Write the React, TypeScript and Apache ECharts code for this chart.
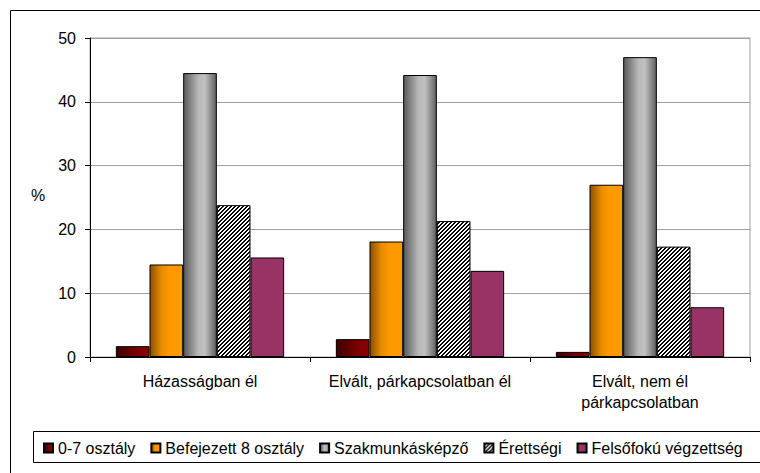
import React, { useEffect, useRef } from "react";
import * as echarts from "echarts";

const categories = ["Házasságban él", "Elvált, párkapcsolatban él", "Elvált, nem él\npárkapcsolatban"];
const seriesNames = ["0-7 osztály", "Befejezett 8 osztály", "Szakmunkásképző", "Érettségi", "Felsőfokú végzettség"];
const v07 = [1.7, 2.8, 0.8];
const vBef8 = [14.5, 18.1, 27.0];
const vSzakm = [44.5, 44.2, 47.0];
const vErett = [23.8, 21.3, 17.3];
const vFelso = [15.6, 13.5, 7.8];
const yTicks = { min: 0, max: 50, interval: 10 };

const FONT = "'Liberation Sans', Arial, sans-serif";

function hGrad(stops: [number, string][]) {
  return new echarts.graphic.LinearGradient(0, 0, 1, 0, stops.map(([offset, color]) => ({ offset, color })));
}

function hatchCanvas() {
  const c = document.createElement("canvas");
  c.width = 4;
  c.height = 4;
  const ctx = c.getContext("2d")!;
  ctx.fillStyle = "#ffffff";
  ctx.fillRect(0, 0, 4, 4);
  ctx.fillStyle = "#000000";
  for (let y = 0; y < 4; y++) {
    for (let x = 0; x < 4; x++) {
      if ((x + y) % 4 < 2) ctx.fillRect(x, y, 1, 1);
    }
  }
  return c;
}

export default function App() {
  const ref = useRef<HTMLDivElement>(null);
  useEffect(() => {
    if (!ref.current) return;
    const chart = echarts.init(ref.current, undefined, { renderer: "svg" });
    const border = { borderColor: "#000", borderWidth: 1 };
    const styles = [
      { color: hGrad([[0, "#3a0000"], [0.6, "#7a0000"], [1, "#8a0000"]]), ...border },
      { color: hGrad([[0, "#8a5200"], [0.35, "#e88c00"], [0.6, "#ff9900"], [1, "#ff9900"]]), ...border },
      { color: hGrad([[0, "#5a5a5a"], [0.45, "#b8b8b8"], [0.65, "#c0c0c0"], [1, "#606060"]]), ...border },
      { color: { image: hatchCanvas(), repeat: "repeat" }, ...border },
      { color: "#993366", ...border },
    ];
    const data = [v07, vBef8, vSzakm, vErett, vFelso];
    chart.setOption({
      animation: false,
      textStyle: { fontFamily: FONT },
      grid: { left: 90, top: 38, right: 10, bottom: 116, show: true, borderColor: "#a0a0a0", borderWidth: 1, backgroundColor: "transparent" },
      xAxis: {
        type: "category",
        data: categories,
        axisLine: { lineStyle: { color: "#000", width: 1 } },
        axisTick: { show: true, length: 5, lineStyle: { color: "#000" } },
        axisLabel: { color: "#000", fontSize: 16, margin: 14, lineHeight: 21, fontFamily: FONT, interval: 0 },
        splitLine: { show: false },
      },
      yAxis: {
        type: "value",
        min: yTicks.min,
        max: yTicks.max,
        interval: yTicks.interval,
        axisLine: { show: true, lineStyle: { color: "#000", width: 1 } },
        axisTick: { show: true, length: 5, lineStyle: { color: "#000" } },
        axisLabel: { color: "#000", fontSize: 16, margin: 14, fontFamily: FONT },
        splitLine: { show: true, lineStyle: { color: "#a0a0a0", width: 1 } },
      },
      legend: {
        left: 38,
        top: 435,
        itemWidth: 9,
        itemHeight: 9,
        itemGap: 15,
        icon: "rect",
        textStyle: { color: "#000", fontSize: 16, fontFamily: FONT },
        data: seriesNames,
      },
      graphic: [
        { type: "rect", shape: { x: 10.5, y: 10.5, width: 800, height: 500 }, style: { fill: "none", stroke: "#000", lineWidth: 1 }, silent: true },
        { type: "rect", shape: { x: 33.5, y: 431.5, width: 800, height: 31 }, style: { fill: "none", stroke: "#000", lineWidth: 1 }, silent: true },
        { type: "text", x: 38, y: 195, style: { text: "%", fill: "#000", font: `16px ${FONT}`, textAlign: "center", textVerticalAlign: "middle" }, silent: true },
      ],
      series: seriesNames.map((name, i) => ({
        name,
        type: "bar",
        data: data[i],
        barGap: "0%",
        barCategoryGap: "23.5%",
        itemStyle: styles[i],
        emphasis: { disabled: true },
      })),
    });
    return () => chart.dispose();
  }, []);
  return <div ref={ref} style={{ position: "absolute", left: 0, top: 0, width: 760, height: 473, background: "#fff" }} />;
}
